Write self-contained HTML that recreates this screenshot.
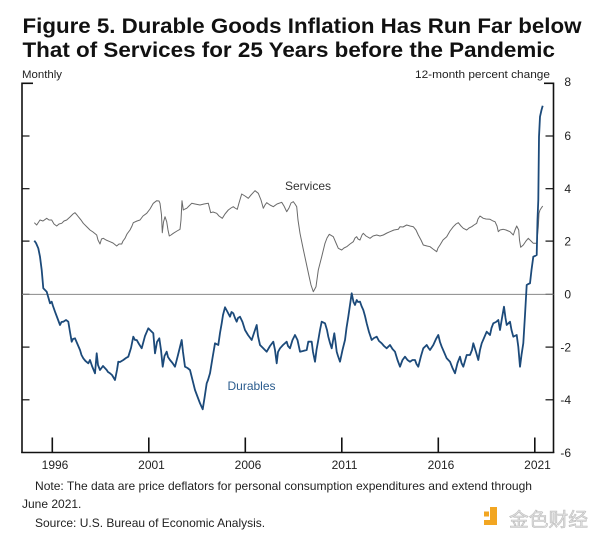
<!DOCTYPE html>
<html>
<head>
<meta charset="utf-8">
<style>
html,body{margin:0;padding:0;background:#fff;}
svg{display:block;}
text{font-family:"Liberation Sans",Arial,sans-serif;}
</style>
</head>
<body>
<svg width="600" height="538" viewBox="0 0 600 538" xmlns="http://www.w3.org/2000/svg">
<rect x="0" y="0" width="600" height="538" fill="#ffffff"/>
<!-- Title -->
<text x="22.5" y="33" font-size="21" font-weight="bold" fill="#111" textLength="559" lengthAdjust="spacingAndGlyphs">Figure 5. Durable Goods Inflation Has Run Far below</text>
<text x="22.5" y="57" font-size="21" font-weight="bold" fill="#111" textLength="532.5" lengthAdjust="spacingAndGlyphs">That of Services for 25 Years before the Pandemic</text>
<text x="22" y="78" font-size="11" fill="#222" textLength="40" lengthAdjust="spacingAndGlyphs">Monthly</text>
<text x="415" y="78" font-size="11" fill="#222" textLength="135" lengthAdjust="spacingAndGlyphs">12-month percent change</text>

<!-- Frame -->
<g stroke="#111" stroke-width="1.6" fill="none">
<line x1="22" y1="82.5" x2="22" y2="453"/>
<line x1="553.5" y1="82.5" x2="553.5" y2="453"/>
<line x1="21.2" y1="452.5" x2="554.3" y2="452.5"/>
<line x1="22" y1="83.3" x2="33" y2="83.3"/>
<line x1="553.5" y1="83.3" x2="544" y2="83.3"/>
</g>
<!-- left ticks -->
<g stroke="#111" stroke-width="1.2">
<line x1="22" y1="136" x2="29.5" y2="136"/>
<line x1="22" y1="188.7" x2="29.5" y2="188.7"/>
<line x1="22" y1="241.1" x2="29.5" y2="241.1"/>
<line x1="22" y1="294.4" x2="29.5" y2="294.4"/>
<line x1="22" y1="347.1" x2="29.5" y2="347.1"/>
<line x1="22" y1="399.8" x2="29.5" y2="399.8"/>
<line x1="553.5" y1="136" x2="545.5" y2="136"/>
<line x1="553.5" y1="188.7" x2="545.5" y2="188.7"/>
<line x1="553.5" y1="241.1" x2="545.5" y2="241.1"/>
<line x1="553.5" y1="294.4" x2="545.5" y2="294.4"/>
<line x1="553.5" y1="347.1" x2="545.5" y2="347.1"/>
<line x1="553.5" y1="399.8" x2="545.5" y2="399.8"/>
</g>
<!-- x ticks -->
<g stroke="#111" stroke-width="1.6">
<line x1="52.3" y1="452" x2="52.3" y2="437.5"/>
<line x1="148.8" y1="452" x2="148.8" y2="437.5"/>
<line x1="245.3" y1="452" x2="245.3" y2="437.5"/>
<line x1="341.8" y1="452" x2="341.8" y2="437.5"/>
<line x1="438.3" y1="452" x2="438.3" y2="437.5"/>
<line x1="534.8" y1="452" x2="534.8" y2="437.5"/>
</g>
<!-- right labels -->
<g font-size="12" fill="#222" text-anchor="end">
<text x="571" y="86">8</text>
<text x="571" y="140">6</text>
<text x="571" y="193">4</text>
<text x="571" y="245.5">2</text>
<text x="571" y="298.5">0</text>
<text x="571" y="351.5">-2</text>
<text x="571" y="404">-4</text>
<text x="571" y="457">-6</text>
</g>
<!-- x labels -->
<g font-size="12" fill="#222" text-anchor="middle">
<text x="55" y="469">1996</text>
<text x="151.5" y="469">2001</text>
<text x="248" y="469">2006</text>
<text x="344.5" y="469">2011</text>
<text x="441" y="469">2016</text>
<text x="537.5" y="469">2021</text>
</g>
<!-- zero line -->
<line x1="22" y1="294.4" x2="553.5" y2="294.4" stroke="#8a8a8a" stroke-width="1"/>

<!-- Services -->
<polyline fill="none" stroke="#6a6a6a" stroke-width="1" stroke-linejoin="round" points="34.3,222.7 36.7,225 40,220 43,221 46.7,218.3 49,220 51.7,220 54,224 56.7,226 59,224 61.7,223.3 64,221 66.7,220 70,217 73,214 75,212.7 77,215 78.3,216.7 81,220 83.3,223.3 87,227 90,230 93,232 96.7,235 98,240 100,244 101.5,239 103.3,238.3 106,240 110,241.7 113,243 116.7,246 119,244 121.7,244 123,241 125,238.3 127,234 130,230 132,226 133.3,222.7 137,221 140,220 143,216 146.7,213.3 150,209 153.3,203.3 156.7,200.7 159,201 160,203.3 161.5,215 162.3,232.7 163.5,222 165,216.7 166.7,221.7 168,230 169.3,236 171,235 173.3,233.3 177,231 180,229.3 181,220 182,200.7 183.3,210 185,209 186.7,208.3 189,206 191.7,203.3 195,204 200,205 204,204 208.3,203.3 209.5,208 210.7,212.7 213,212 216.7,213.3 219,216 222.3,218.3 225,214 228.3,210 231,208 233.3,206.7 235,208 237.3,209.3 239,203 241.7,194 245,196 248.3,198.3 251,195 255,190.7 258.3,193.3 261,200 263.3,208.3 265,205 266.7,202.7 270,205 273.3,206.7 277,204 281.7,202.3 284,206 286.7,211.7 289,208 291,203 293.3,201.7 295,204 296.7,206.7 298,220 300,233.3 303,248 306,262 309,276 311,285 313.3,291.7 316,286.7 318.3,270 321.7,256.7 325,243.3 327,238 329.3,234.3 333.3,236.7 336,243 338.3,248.3 341.7,250 344,248 346.7,246.7 350,244 353.3,241.7 355,238 356.7,236.7 358,239 360,240 362,235 363.3,233.3 366,236 370,238.3 373,236 376.7,235 380,236 383.3,235 387,233 390,231.7 394,230 398.3,229.3 400,226.7 403,227 406.7,225 410,226 413.3,226.7 416,230 418.3,235 421,240 423.3,245 427,246 430,246.7 433,249 436.7,251.7 438,248 440,245 443,240 446.7,236.7 450,231 453.3,226.7 456,224 458.3,222.7 461,226 463.3,228.3 466.7,230 469,228 471.7,226.7 474,225 476.7,223.3 478,219 480,216 483.3,218.3 486,219 490,219.3 493,221 495,221.7 497,226 498.3,231.7 500,230 503.3,229.3 506,230 510,231.7 513.3,235 515,230 516.7,226 518.7,230 519.5,240 520.7,247.3 523.3,245 526,241 528.3,238.3 531,241 533.3,243.3 536.7,243.3 538.3,226.7 539,213.3 540,210 542.7,206"/>

<!-- Durables -->
<polyline fill="none" stroke="#1c4a7a" stroke-width="1.8" stroke-linejoin="round" points="34.3,240.7 36,243 38.3,248.3 40,256.7 41.7,270 43.3,288.3 45,290 46.7,291.7 48.5,298 50,303.3 51.7,301.7 53,306 55,311.7 57,317 60,325 61.5,322 63.3,321.7 66,320 68.3,321.7 70,332 71.7,341.7 73,339 75,338.3 77,343 80,350 81.5,355 83.3,358.3 85.5,361 88.3,363.3 90,360 92,366 95,373.3 96.7,353.3 98,365 100,370 103,366 106.7,370 108,372 110,373.3 112,375 115,380 117,370 118.3,361.7 120,362 123.3,360 126,358 128.3,356.7 131,348 133.3,336.7 135,340 136.7,340 139,344 141.7,348.3 145,336 148.3,328.3 151,331 153.3,333.3 155,353.3 157,342 159.3,338.3 161,350 162.7,366.7 164.5,356 166.7,351.7 168,357 170,360 172.5,363 175,366.7 178,355 181.7,340 183,352 185,366.7 187.5,368 190,370 192.5,380 195,390 198,398 200,403.3 202.7,409.3 204.5,398 206.7,383.3 208,380 210,373.3 212.5,358 215,343.3 218.3,345 220,333 221.7,323.3 223,315 225,307.3 227,311 230,316.7 231.5,312 233.3,313.3 235,318 236.7,321.7 238,318 240,316.7 242.5,322 245,330 248,335 251.7,340 254,333 256.7,325 258,336 260,345 263,348 266.7,351.7 270,346 273.3,341.7 275,350 276.7,363.3 278,352 280,348.3 283,345 286.7,341.7 288,346 290,348.3 292.5,340 295,335 297.5,340 300,351.7 303,351 306.7,350 308.3,341.7 311.7,341.7 313,352 315,361.7 316.5,350 318.3,340 320,330 321.7,321.7 325,323.3 327,330 328.3,336.7 330,343 331.7,348.3 334.3,333.3 335.5,342 336.7,351.7 338,356 340,361.7 342.5,350 345,340 346.5,328 348.3,316.7 350,305 351.7,293.3 353.5,302 355,305 356.7,300 358,302 360,301.7 361.5,306 363.3,310 365,316 366.7,323.3 369,332 371.7,340 374,338 376.7,336.7 379,341 381.7,343.3 384,346 386.7,348.3 390,345 392.5,349 395,351.7 397.5,360 400,366.7 402.5,360 405,356.7 407.5,360 410,361.7 412.5,360 415,360 416.5,364 418.3,366.7 421,356 423.3,348.3 426.7,345 428.5,348 430,350 433.3,345 436,339 438.3,335 440,342 441.7,346.7 444,352 446.7,358.3 450,361.7 452.5,368 455,373.3 457.5,363 460,356.7 461.5,363 463.3,366.7 466.7,355 470,355 472,350 473.3,343.3 476,352 478.3,360 480,350 481.7,343.3 484,338 486.7,331.7 490,335 491.5,328 493.3,323.3 496,322 498.3,320 500,330 502,318 504,306.7 505.5,318 506.7,325 510,321.7 511.5,330 513.3,336.7 516.7,335 518.3,346.7 520,366.7 521.5,355 523.3,343.3 525,315 526.7,285 528.3,284 530,283.3 531.5,270 533.3,256.7 535,256 536.7,255 537.5,220 538.3,200 539,136.7 540,116.7 541.5,110 542.7,105.7"/>

<!-- Series labels -->
<text x="285" y="190" font-size="12" fill="#333">Services</text>
<text x="227.5" y="390" font-size="12" fill="#2b5c8e">Durables</text>

<!-- Notes -->
<text x="35" y="490" font-size="12" fill="#222" textLength="497" lengthAdjust="spacingAndGlyphs">Note:  The data are price deflators for personal consumption expenditures and extend through</text>
<text x="22" y="508" font-size="12" fill="#222">June 2021.</text>
<text x="35" y="527" font-size="12" fill="#222">Source:  U.S. Bureau of Economic Analysis.</text>

<!-- Watermark -->
<rect x="484" y="511.5" width="5" height="5" fill="#f2a622"/>
<path d="M490,507 L497,507 L497,525 L484,525 L484,520 L490,520 Z" fill="#f2a622"/>
<text x="509" y="526" font-size="19" fill="#e2e2e2" stroke="#bdbdbd" stroke-width="0.6" font-family="'Liberation Sans','Noto Sans CJK SC',sans-serif" textLength="79" lengthAdjust="spacingAndGlyphs">金色财经</text>
</svg>
</body>
</html>
